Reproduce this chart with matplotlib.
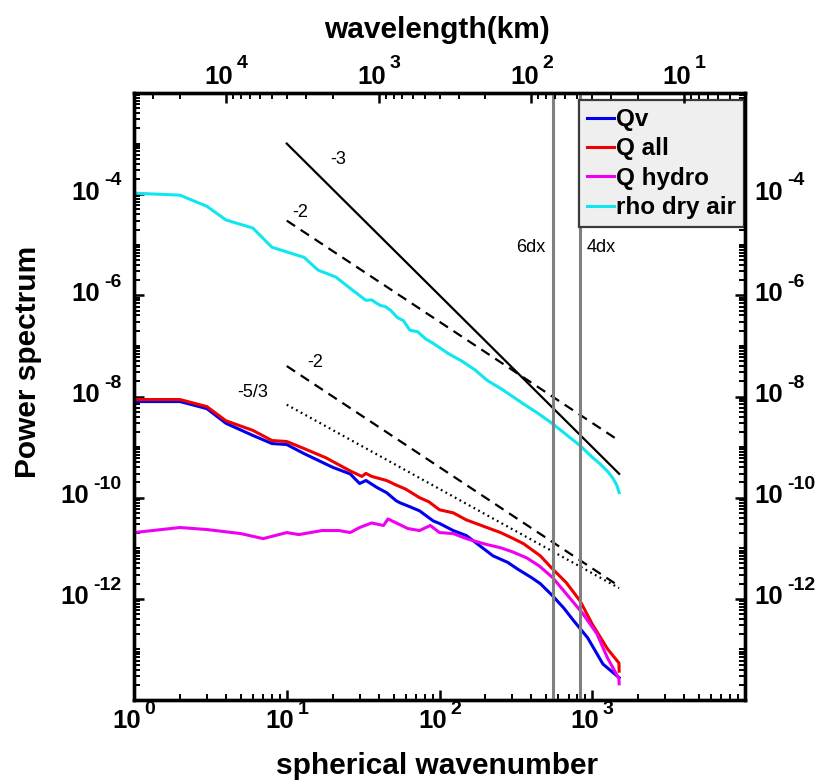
import numpy as np
import matplotlib
matplotlib.use("Agg")
import matplotlib.pyplot as plt
from matplotlib.ticker import FixedLocator, LogLocator, NullFormatter

plt.rcParams['font.family'] = ['Liberation Sans', 'DejaVu Sans']

# ---- spectra: spherical wavenumber and log10 of power ----
k_qv = [1, 2, 3, 4, 6, 8, 10, 13, 20, 26, 30, 33, 39, 45, 52, 55, 64, 74, 91, 100,
        123, 150, 166, 224, 280, 324, 400, 457, 550, 650, 759, 933, 1175, 1500]
logp_qv = [-8.10, -8.10, -8.24, -8.53, -8.77, -8.93, -8.95, -9.13, -9.40, -9.53,
           -9.72, -9.66, -9.80, -9.90, -10.06, -10.10, -10.18, -10.26, -10.46, -10.51,
           -10.65, -10.75, -10.85, -11.15, -11.28, -11.41, -11.58, -11.70, -11.94, -12.18,
           -12.44, -12.77, -13.29, -13.56]

k_qall = [1, 2, 3, 4, 6, 8, 10, 13, 18, 26, 31, 33, 36, 45, 52, 60, 74, 85, 100, 123,
          150, 200, 251, 300, 355, 457, 550, 676, 832, 1000, 1259, 1496, 1500]
logp_qall = [-8.06, -8.06, -8.20, -8.48, -8.67, -8.87, -8.89, -9.03, -9.21, -9.47,
             -9.58, -9.52, -9.58, -9.66, -9.75, -9.83, -10.00, -10.08, -10.24, -10.30,
             -10.44, -10.58, -10.69, -10.80, -10.91, -11.15, -11.41, -11.68, -12.04, -12.50,
             -12.99, -13.27, -13.43]

k_qhydro = [1, 2, 3, 5, 7, 10, 12, 17, 22, 26, 30, 36, 43, 46, 53, 62, 74, 87, 100, 123,
            150, 166, 200, 251, 300, 372, 450, 550, 676, 871, 1072, 1259, 1496, 1500]
logp_qhydro = [-10.69, -10.59, -10.63, -10.71, -10.81, -10.69, -10.73, -10.65, -10.65, -10.69,
               -10.59, -10.50, -10.55, -10.42, -10.51, -10.61, -10.65, -10.55, -10.69, -10.71,
               -10.81, -10.85, -10.92, -10.99, -11.07, -11.19, -11.35, -11.58, -11.90, -12.30,
               -12.69, -13.17, -13.58, -13.68]

k_rho = [1, 2, 3, 4, 6, 8, 13, 16, 21, 27, 33, 36, 38, 41, 44, 48, 53, 58, 64, 72,
         81, 91, 103, 114, 140, 170, 205, 260, 352, 440, 545, 680, 832, 1000, 1122, 1260,
         1368, 1450, 1500]
logp_rho = [-3.98, -4.02, -4.24, -4.51, -4.67, -5.05, -5.25, -5.50, -5.64, -5.90,
            -6.10, -6.09, -6.14, -6.20, -6.22, -6.30, -6.44, -6.50, -6.69, -6.72,
            -6.86, -6.95, -7.06, -7.15, -7.30, -7.47, -7.68, -7.87, -8.14, -8.33,
            -8.53, -8.76, -8.97, -9.20, -9.33, -9.48, -9.62, -9.76, -9.90]

series_labels = ['Qv', 'Q all', 'Q hydro', 'rho dry air']
series_colors = ['#0000f0', '#f00000', '#f000f0', '#10e6f0']

# reference power laws: (amplitude, slope, label)
ref_k = np.array([10.0, 1500.0])
ref_laws = [(1.0, -3.0, '-3'), (3e-3, -2.0, '-2'), (4e-6, -2.0, '-2'), (3.2e-7, -5.0 / 3.0, '-5/3')]

# grid-resolution markers (wavelength in km), circumference in km
dx_km = 12.0
circumference_km = 40000.0

y_decades = [-12, -10, -8, -6, -4]
x_decades = [0, 1, 2, 3]
wl_decades = [4, 3, 2, 1]

fig = plt.figure(figsize=(8.3, 7.84), dpi=100)
ax = fig.add_axes([134 / 830, 1 - 700 / 784, 611 / 830, 607 / 784])
ax.set_xscale('log')
ax.set_yscale('log')
ax.set_xlim(1, 1e4)
ax.set_ylim(1e-14, 1e-2)

lines = []
for k, lp, lab, col in zip([k_qv, k_qall, k_qhydro, k_rho],
                           [logp_qv, logp_qall, logp_qhydro, logp_rho],
                           series_labels, series_colors):
    ln, = ax.plot(k, 10.0 ** np.array(lp), color=col, lw=2.2, label=lab, zorder=2)
    lines.append(ln)

styles = ['-', (0, (4.5, 3.0)), (0, (4.5, 3.0)), (0, (0.8, 1.6))]
for (amp, slope, lab), ls in zip(ref_laws, styles):
    ax.plot(ref_k, amp * ref_k ** slope, color='black', lw=1.6, linestyle=ls, zorder=2)

ax.text(21.7, 10 ** -3.307, '-3', fontsize=13, ha='center', va='center')
ax.text(12.2, 10 ** -4.356, '-2', fontsize=13, ha='center', va='center')
ax.text(15.3, 10 ** -7.327, '-2', fontsize=13, ha='center', va='center')
ax.text(6.0, 10 ** -7.92, '-5/3', fontsize=13, ha='center', va='center')

k6 = circumference_km / (6 * dx_km)
k4 = circumference_km / (4 * dx_km)
ax.axvline(k6, color='#808080', lw=2.2, zorder=3)
ax.axvline(k4, color='#808080', lw=2.2, zorder=3)
ax.annotate('6dx', xy=(k6, 10 ** -5.05), xytext=(-6, 0), textcoords='offset points',
            ha='right', va='center', fontsize=13)
ax.annotate('4dx', xy=(k4, 10 ** -5.05), xytext=(5, 0), textcoords='offset points',
            ha='left', va='center', fontsize=13)

# ticks
ax.xaxis.set_major_locator(FixedLocator([10.0 ** n for n in range(0, 5)]))
ax.xaxis.set_minor_locator(LogLocator(base=10, subs=np.arange(2, 10), numticks=100))
ax.yaxis.set_major_locator(FixedLocator([10.0 ** n for n in range(-14, -1, 2)]))
ax.yaxis.set_minor_locator(LogLocator(base=10, subs=np.arange(1, 10), numticks=100))
for a in (ax.xaxis, ax.yaxis):
    a.set_major_formatter(NullFormatter())
    a.set_minor_formatter(NullFormatter())
ax.tick_params(which='both', direction='in', left=True, right=True, bottom=True, top=False,
               labelleft=False, labelbottom=False)
ax.tick_params(which='major', length=7, width=1.8)
ax.tick_params(which='minor', length=4, width=1.4)
for s in ax.spines.values():
    s.set_linewidth(2.4)

# wavelength axis on top
ax2 = ax.twiny()
ax2.set_xscale('log')
ax2.set_xlim(circumference_km / 1.0, circumference_km / 1e4)
ax2.xaxis.set_major_formatter(NullFormatter())
ax2.xaxis.set_minor_formatter(NullFormatter())
ax2.tick_params(which='both', direction='in', top=True, bottom=False, labeltop=False)
ax2.tick_params(which='major', length=7, width=1.8)
ax2.tick_params(which='minor', length=4, width=1.4)
for s in ax2.spines.values():
    s.set_linewidth(2.4)

BASE_FS = 18.5
EXP_FS = 14

# left and right power-of-ten labels
for n in y_decades:
    e = ax.annotate(str(n), xy=(0, 10.0 ** n), xycoords=('axes fraction', 'data'),
                    xytext=(-9, 9.5), textcoords='offset points', ha='right', va='center',
                    fontsize=EXP_FS, fontweight='bold')
    ax.annotate('10', xy=(0, 10.0 ** n), xycoords=(e, 'data'), xytext=(-3, 1),
                textcoords='offset points', ha='right', va='center',
                fontsize=BASE_FS, fontweight='bold')
    b = ax.annotate('10', xy=(1, 10.0 ** n), xycoords=('axes fraction', 'data'),
                    xytext=(7, 1), textcoords='offset points', ha='left', va='center',
                    fontsize=BASE_FS, fontweight='bold', annotation_clip=False)
    ax.annotate(str(n), xy=(1, 10.0 ** n), xycoords=(b, 'data'), xytext=(3, 9.5),
                textcoords='offset points', ha='left', va='center',
                fontsize=EXP_FS, fontweight='bold')

# bottom wavenumber labels
for n in x_decades:
    b = ax.annotate('10', xy=(10.0 ** n, 0), xycoords=('data', 'axes fraction'),
                    xytext=(5.2, -15), textcoords='offset points', ha='right', va='center',
                    fontsize=BASE_FS, fontweight='bold', annotation_clip=False)
    ax.annotate(str(n), xy=(1, 0), xycoords=(b, 'axes fraction'), xytext=(2.5, -7),
                textcoords='offset points', ha='left', va='center',
                fontsize=EXP_FS, fontweight='bold')

# top wavelength labels
for n in wl_decades:
    b = ax2.annotate('10', xy=(10.0 ** n, 1), xycoords=('data', 'axes fraction'),
                     xytext=(5.2, 11.5), textcoords='offset points', ha='right', va='center',
                     fontsize=BASE_FS, fontweight='bold', annotation_clip=False)
    ax2.annotate(str(n), xy=(1, 1), xycoords=(b, 'axes fraction'), xytext=(2.5, 21),
                 textcoords='offset points', ha='left', va='center',
                 fontsize=EXP_FS, fontweight='bold')

fig.text(437 / 830, 1 - 30 / 784, 'wavelength(km)', ha='center', va='center',
         fontsize=21.5, fontweight='bold')
fig.text(437 / 830, 1 - 766 / 784, 'spherical wavenumber', ha='center', va='center',
         fontsize=21.5, fontweight='bold')
fig.text(28 / 830, 1 - 362 / 784, 'Power spectrum', ha='center', va='center',
         rotation=90, fontsize=21.5, fontweight='bold')

leg = ax.legend(lines, series_labels, loc='upper right', bbox_to_anchor=(0.998, 0.988),
                borderaxespad=0, prop={'weight': 'bold', 'size': 17.5},
                handlelength=1.1, handletextpad=0.1, labelspacing=0.26, borderpad=0.32,
                frameon=True, fancybox=False, facecolor='#efefef', edgecolor='#3a3a3a',
                framealpha=1)
leg.get_frame().set_linewidth(1.6)
leg.set_zorder(5)

fig.savefig('out.png', dpi=100)
